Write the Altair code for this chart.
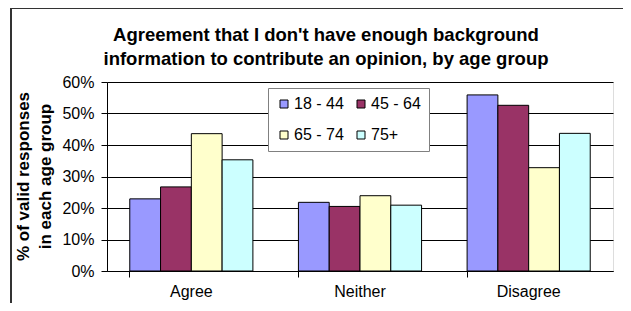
import altair as alt
import pandas as pd

categories = ["Agree", "Neither", "Disagree"]
age_groups = ["18 - 44", "45 - 64", "65 - 74", "75+"]
v_18_44 = [0.229, 0.218, 0.559]
v_45_64 = [0.267, 0.205, 0.526]
v_65_74 = [0.436, 0.239, 0.328]
v_75p = [0.353, 0.209, 0.437]
colors = ["#9999FF", "#993366", "#FFFFCC", "#CCFFFF"]

series = [v_18_44, v_45_64, v_65_74, v_75p]
rows = []
for ag, vals in zip(age_groups, series):
    for c, v in zip(categories, vals):
        rows.append({"cat": c, "age": ag, "val": v})
df = pd.DataFrame(rows)

FONT = "Liberation Sans"

bars = alt.Chart(df).mark_bar(stroke="black", strokeWidth=1).encode(
    x=alt.X("cat:N", sort=categories,
            scale=alt.Scale(paddingInner=0.27, paddingOuter=0.135),
            axis=alt.Axis(title=None, labelAngle=0, labelFontSize=16, labelFont=FONT,
                          labelColor="black", bandPosition=0, tickSize=6, tickColor="black",
                          domainColor="black", labelPadding=6, grid=False)),
    xOffset=alt.XOffset("age:N", sort=age_groups, scale=alt.Scale(paddingInner=0, paddingOuter=0)),
    y=alt.Y("val:Q", scale=alt.Scale(domain=[0, 0.6], nice=False),
            axis=alt.Axis(values=[0, 0.1, 0.2, 0.3, 0.4, 0.5, 0.6], format=".0%",
                          labelFontSize=16, labelFont=FONT, labelColor="black",
                          tickSize=6, tickColor="black", domainColor="black",
                          gridColor="black", gridOpacity=1, labelPadding=7,
                          title=["% of valid responses", "in each age group"],
                          titleFont=FONT, titleFontSize=17, titleFontWeight="bold",
                          titleColor="black", titleAngle=-90, titleAlign="center",
                          titleBaseline="middle", titleX=-84, titleY=94, titleLineHeight=22)),
    color=alt.Color("age:N", sort=age_groups,
                    scale=alt.Scale(domain=age_groups, range=colors),
                    legend=alt.Legend(title=None, orient="none", legendX=161, legendY=6,
                                      columns=2, direction="horizontal",
                                      fillColor="white", strokeColor="#808080",
                                      padding=8, symbolType="square", symbolSize=64,
                                      symbolStrokeColor="black", symbolStrokeWidth=1,
                                      labelFontSize=16, labelFont=FONT, labelColor="black",
                                      rowPadding=15, columnPadding=9, symbolOpacity=1,
                                      labelOffset=2)),
)

frame_left = alt.Chart(df).mark_rule(color="#333333", strokeWidth=2).encode(
    x=alt.value(-96), y=alt.value(-74), y2=alt.value(240))
frame_top = alt.Chart(df).mark_rule(color="#333333", strokeWidth=2).encode(
    x=alt.value(-96), x2=alt.value(560), y=alt.value(-74))

chart = alt.layer(bars, frame_left, frame_top).properties(
    width=506, height=189,
    autosize=alt.AutoSizeParams(type="none"),
    padding={"left": 99, "top": 74, "right": 10, "bottom": 32},
    title=alt.Title(["Agreement that I don't have enough background",
                     "information to contribute an opinion, by age group"],
                    font=FONT, fontSize=18.5, fontWeight="bold", color="black",
                    anchor="middle", dx=-34, dy=71, offset=10, lineHeight=24),
).configure_view(stroke="#999999", strokeWidth=1.5).configure(background="white")

chart.save("out.html", embed_options={"renderer": "svg", "actions": False})
